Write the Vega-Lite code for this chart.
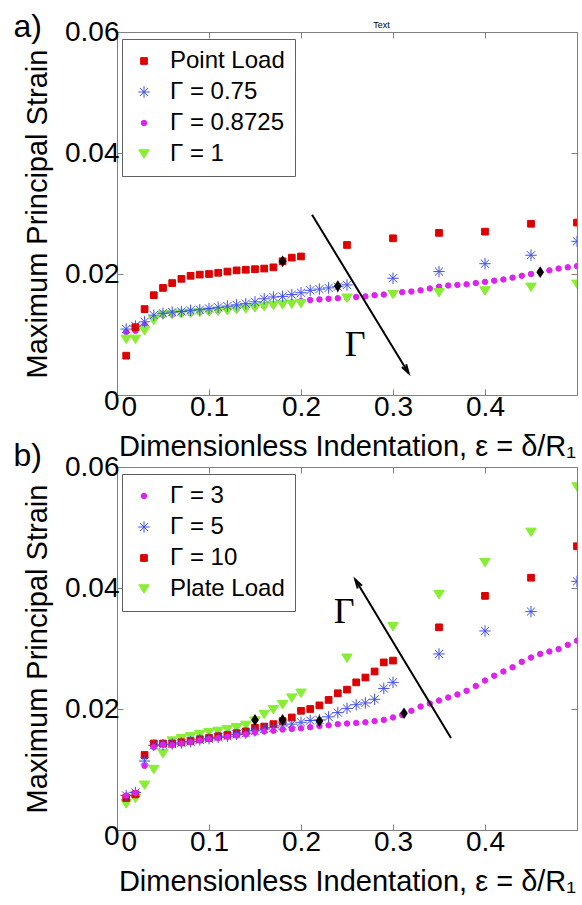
{
  "$schema": "https://vega.github.io/schema/vega-lite/v6.json",
  "padding": {"left": 13, "top": 10, "right": 0, "bottom": 0},
  "background": "white",
  "config": {
    "font": "Liberation Sans",
    "view": {"stroke": "#808080", "strokeWidth": 1},
    "axis": {"domain": false, "grid": false, "tickColor": "#808080", "tickSize": -6, "tickWidth": 1, "labelFontSize": 28, "labelColor": "black", "labelFont": "Liberation Sans", "titleFontSize": 29, "titleFontWeight": "normal", "titleColor": "black", "titleFont": "Liberation Sans", "labelPadding": 4},
    "legend": {"orient": "none", "legendX": 5, "legendY": 7, "strokeColor": "#606060", "fillColor": "white", "padding": 10, "labelFontSize": 24, "labelFont": "Liberation Sans", "labelColor": "black", "rowPadding": 7, "symbolStrokeWidth": 1, "labelOffset": 14, "cornerRadius": 0},
    "title": {"fontSize": 32, "fontWeight": "normal", "anchor": "start", "frame": "bounds", "color": "black", "font": "Liberation Sans"}
  },
  "datasets": {
    "top": [
      {"s":"Γ = 0.8725","x":0.01,"y":0.0104},{"s":"Γ = 0.8725","x":0.02,"y":0.0106},{"s":"Γ = 0.8725","x":0.03,"y":0.0116},{"s":"Γ = 0.8725","x":0.04,"y":0.0127},{"s":"Γ = 0.8725","x":0.05,"y":0.0132},
      {"s":"Γ = 0.8725","x":0.06,"y":0.0133},{"s":"Γ = 0.8725","x":0.07,"y":0.0134},{"s":"Γ = 0.8725","x":0.08,"y":0.0135},{"s":"Γ = 0.8725","x":0.09,"y":0.0137},{"s":"Γ = 0.8725","x":0.10,"y":0.0138},
      {"s":"Γ = 0.8725","x":0.11,"y":0.0139},{"s":"Γ = 0.8725","x":0.12,"y":0.0141},{"s":"Γ = 0.8725","x":0.13,"y":0.0142},{"s":"Γ = 0.8725","x":0.14,"y":0.0144},{"s":"Γ = 0.8725","x":0.15,"y":0.0145},
      {"s":"Γ = 0.8725","x":0.16,"y":0.0147},{"s":"Γ = 0.8725","x":0.17,"y":0.0149},{"s":"Γ = 0.8725","x":0.18,"y":0.0151},{"s":"Γ = 0.8725","x":0.19,"y":0.0153},{"s":"Γ = 0.8725","x":0.20,"y":0.0155},
      {"s":"Γ = 0.8725","x":0.21,"y":0.0157},{"s":"Γ = 0.8725","x":0.22,"y":0.0158},{"s":"Γ = 0.8725","x":0.23,"y":0.0159},{"s":"Γ = 0.8725","x":0.24,"y":0.0160},{"s":"Γ = 0.8725","x":0.25,"y":0.0161},
      {"s":"Γ = 0.8725","x":0.26,"y":0.0162},{"s":"Γ = 0.8725","x":0.27,"y":0.0163},{"s":"Γ = 0.8725","x":0.28,"y":0.0165},{"s":"Γ = 0.8725","x":0.29,"y":0.0166},{"s":"Γ = 0.8725","x":0.30,"y":0.0168},
      {"s":"Γ = 0.8725","x":0.31,"y":0.0170},{"s":"Γ = 0.8725","x":0.32,"y":0.0171},{"s":"Γ = 0.8725","x":0.33,"y":0.0173},{"s":"Γ = 0.8725","x":0.34,"y":0.0176},{"s":"Γ = 0.8725","x":0.35,"y":0.0179},
      {"s":"Γ = 0.8725","x":0.36,"y":0.0181},{"s":"Γ = 0.8725","x":0.37,"y":0.0182},{"s":"Γ = 0.8725","x":0.38,"y":0.0183},{"s":"Γ = 0.8725","x":0.39,"y":0.0185},{"s":"Γ = 0.8725","x":0.40,"y":0.0187},
      {"s":"Γ = 0.8725","x":0.41,"y":0.0189},{"s":"Γ = 0.8725","x":0.42,"y":0.0191},{"s":"Γ = 0.8725","x":0.43,"y":0.0194},{"s":"Γ = 0.8725","x":0.44,"y":0.0197},{"s":"Γ = 0.8725","x":0.45,"y":0.0200},
      {"s":"Γ = 0.8725","x":0.46,"y":0.0203},{"s":"Γ = 0.8725","x":0.47,"y":0.0206},{"s":"Γ = 0.8725","x":0.48,"y":0.0209},{"s":"Γ = 0.8725","x":0.49,"y":0.0211},{"s":"Γ = 0.8725","x":0.50,"y":0.0213},
      {"s":"Γ = 1","x":0.01,"y":0.0092},{"s":"Γ = 1","x":0.02,"y":0.0092},{"s":"Γ = 1","x":0.03,"y":0.0106},{"s":"Γ = 1","x":0.04,"y":0.0123},{"s":"Γ = 1","x":0.05,"y":0.0132},
      {"s":"Γ = 1","x":0.06,"y":0.0133},{"s":"Γ = 1","x":0.07,"y":0.0134},{"s":"Γ = 1","x":0.08,"y":0.0135},{"s":"Γ = 1","x":0.09,"y":0.0136},{"s":"Γ = 1","x":0.10,"y":0.0137},
      {"s":"Γ = 1","x":0.11,"y":0.0138},{"s":"Γ = 1","x":0.12,"y":0.0139},{"s":"Γ = 1","x":0.13,"y":0.0141},{"s":"Γ = 1","x":0.14,"y":0.0142},{"s":"Γ = 1","x":0.15,"y":0.0144},
      {"s":"Γ = 1","x":0.16,"y":0.0146},{"s":"Γ = 1","x":0.17,"y":0.0148},{"s":"Γ = 1","x":0.18,"y":0.0149},{"s":"Γ = 1","x":0.19,"y":0.0150},{"s":"Γ = 1","x":0.20,"y":0.0151},
      {"s":"Γ = 1","x":0.25,"y":0.0160},{"s":"Γ = 1","x":0.30,"y":0.0166},{"s":"Γ = 1","x":0.35,"y":0.0169},{"s":"Γ = 1","x":0.40,"y":0.0172},{"s":"Γ = 1","x":0.45,"y":0.0178},{"s":"Γ = 1","x":0.50,"y":0.0183},
      {"s":"Γ = 0.75","x":0.01,"y":0.0109},{"s":"Γ = 0.75","x":0.02,"y":0.0114},{"s":"Γ = 0.75","x":0.03,"y":0.0121},{"s":"Γ = 0.75","x":0.04,"y":0.0132},{"s":"Γ = 0.75","x":0.05,"y":0.0135},
      {"s":"Γ = 0.75","x":0.06,"y":0.0137},{"s":"Γ = 0.75","x":0.07,"y":0.0138},{"s":"Γ = 0.75","x":0.08,"y":0.0140},{"s":"Γ = 0.75","x":0.09,"y":0.0141},{"s":"Γ = 0.75","x":0.10,"y":0.0143},
      {"s":"Γ = 0.75","x":0.11,"y":0.0145},{"s":"Γ = 0.75","x":0.12,"y":0.0147},{"s":"Γ = 0.75","x":0.13,"y":0.0149},{"s":"Γ = 0.75","x":0.14,"y":0.0151},{"s":"Γ = 0.75","x":0.15,"y":0.0154},
      {"s":"Γ = 0.75","x":0.16,"y":0.0159},{"s":"Γ = 0.75","x":0.17,"y":0.0162},{"s":"Γ = 0.75","x":0.18,"y":0.0163},{"s":"Γ = 0.75","x":0.19,"y":0.0166},{"s":"Γ = 0.75","x":0.20,"y":0.0169},
      {"s":"Γ = 0.75","x":0.21,"y":0.0173},{"s":"Γ = 0.75","x":0.22,"y":0.0175},{"s":"Γ = 0.75","x":0.23,"y":0.0177},{"s":"Γ = 0.75","x":0.24,"y":0.0179},{"s":"Γ = 0.75","x":0.25,"y":0.0182},
      {"s":"Γ = 0.75","x":0.30,"y":0.0193},{"s":"Γ = 0.75","x":0.35,"y":0.0204},{"s":"Γ = 0.75","x":0.40,"y":0.0217},{"s":"Γ = 0.75","x":0.45,"y":0.0231},{"s":"Γ = 0.75","x":0.50,"y":0.0254},
      {"s":"Point Load","x":0.01,"y":0.0065},{"s":"Point Load","x":0.02,"y":0.0112},{"s":"Point Load","x":0.03,"y":0.0142},{"s":"Point Load","x":0.04,"y":0.0165},{"s":"Point Load","x":0.05,"y":0.0177},
      {"s":"Point Load","x":0.06,"y":0.0185},{"s":"Point Load","x":0.07,"y":0.0192},{"s":"Point Load","x":0.08,"y":0.0197},{"s":"Point Load","x":0.09,"y":0.0199},{"s":"Point Load","x":0.10,"y":0.0200},
      {"s":"Point Load","x":0.11,"y":0.0202},{"s":"Point Load","x":0.12,"y":0.0204},{"s":"Point Load","x":0.13,"y":0.0206},{"s":"Point Load","x":0.14,"y":0.0207},{"s":"Point Load","x":0.15,"y":0.0208},
      {"s":"Point Load","x":0.16,"y":0.0209},{"s":"Point Load","x":0.17,"y":0.0211},{"s":"Point Load","x":0.18,"y":0.0221},{"s":"Point Load","x":0.19,"y":0.0227},{"s":"Point Load","x":0.20,"y":0.0229},
      {"s":"Point Load","x":0.25,"y":0.0248},{"s":"Point Load","x":0.30,"y":0.0259},{"s":"Point Load","x":0.35,"y":0.0268},{"s":"Point Load","x":0.40,"y":0.0270},{"s":"Point Load","x":0.45,"y":0.0283},{"s":"Point Load","x":0.50,"y":0.0285}
    ],
    "bottom": [
      {"s":"Plate Load","x":0.01,"y":0.0043},{"s":"Plate Load","x":0.02,"y":0.0052},{"s":"Plate Load","x":0.03,"y":0.0074},{"s":"Plate Load","x":0.04,"y":0.0100},{"s":"Plate Load","x":0.05,"y":0.0126},
      {"s":"Plate Load","x":0.06,"y":0.0147},{"s":"Plate Load","x":0.07,"y":0.0151},{"s":"Plate Load","x":0.08,"y":0.0154},{"s":"Plate Load","x":0.09,"y":0.0158},{"s":"Plate Load","x":0.10,"y":0.0161},
      {"s":"Plate Load","x":0.11,"y":0.0163},{"s":"Plate Load","x":0.12,"y":0.0166},{"s":"Plate Load","x":0.13,"y":0.0169},{"s":"Plate Load","x":0.14,"y":0.0173},{"s":"Plate Load","x":0.15,"y":0.0180},
      {"s":"Plate Load","x":0.16,"y":0.0191},{"s":"Plate Load","x":0.17,"y":0.0199},{"s":"Plate Load","x":0.18,"y":0.0207},{"s":"Plate Load","x":0.19,"y":0.0218},{"s":"Plate Load","x":0.20,"y":0.0226},
      {"s":"Plate Load","x":0.25,"y":0.0284},{"s":"Plate Load","x":0.30,"y":0.0336},{"s":"Plate Load","x":0.35,"y":0.0389},{"s":"Plate Load","x":0.40,"y":0.0442},{"s":"Plate Load","x":0.45,"y":0.0492},{"s":"Plate Load","x":0.50,"y":0.0567},
      {"s":"Γ = 10","x":0.01,"y":0.0053},{"s":"Γ = 10","x":0.02,"y":0.0059},{"s":"Γ = 10","x":0.03,"y":0.0124},{"s":"Γ = 10","x":0.04,"y":0.0143},{"s":"Γ = 10","x":0.05,"y":0.0143},
      {"s":"Γ = 10","x":0.06,"y":0.0143},{"s":"Γ = 10","x":0.07,"y":0.0145},{"s":"Γ = 10","x":0.08,"y":0.0147},{"s":"Γ = 10","x":0.09,"y":0.0150},{"s":"Γ = 10","x":0.10,"y":0.0152},
      {"s":"Γ = 10","x":0.11,"y":0.0155},{"s":"Γ = 10","x":0.12,"y":0.0157},{"s":"Γ = 10","x":0.13,"y":0.0160},{"s":"Γ = 10","x":0.14,"y":0.0163},{"s":"Γ = 10","x":0.15,"y":0.0169},
      {"s":"Γ = 10","x":0.16,"y":0.0171},{"s":"Γ = 10","x":0.17,"y":0.0175},{"s":"Γ = 10","x":0.18,"y":0.0180},{"s":"Γ = 10","x":0.19,"y":0.0186},{"s":"Γ = 10","x":0.20,"y":0.0197},
      {"s":"Γ = 10","x":0.21,"y":0.0200},{"s":"Γ = 10","x":0.22,"y":0.0206},{"s":"Γ = 10","x":0.23,"y":0.0215},{"s":"Γ = 10","x":0.24,"y":0.0226},{"s":"Γ = 10","x":0.25,"y":0.0232},
      {"s":"Γ = 10","x":0.26,"y":0.0244},{"s":"Γ = 10","x":0.27,"y":0.0252},{"s":"Γ = 10","x":0.28,"y":0.0262},{"s":"Γ = 10","x":0.29,"y":0.0277},{"s":"Γ = 10","x":0.30,"y":0.0280},
      {"s":"Γ = 10","x":0.35,"y":0.0335},{"s":"Γ = 10","x":0.40,"y":0.0387},{"s":"Γ = 10","x":0.45,"y":0.0417},{"s":"Γ = 10","x":0.50,"y":0.0469},
      {"s":"Γ = 5","x":0.01,"y":0.0057},{"s":"Γ = 5","x":0.02,"y":0.0062},{"s":"Γ = 5","x":0.03,"y":0.0114},{"s":"Γ = 5","x":0.04,"y":0.0140},{"s":"Γ = 5","x":0.05,"y":0.0141},
      {"s":"Γ = 5","x":0.06,"y":0.0142},{"s":"Γ = 5","x":0.07,"y":0.0144},{"s":"Γ = 5","x":0.08,"y":0.0146},{"s":"Γ = 5","x":0.09,"y":0.0149},{"s":"Γ = 5","x":0.10,"y":0.0151},
      {"s":"Γ = 5","x":0.11,"y":0.0153},{"s":"Γ = 5","x":0.12,"y":0.0155},{"s":"Γ = 5","x":0.13,"y":0.0158},{"s":"Γ = 5","x":0.14,"y":0.0160},{"s":"Γ = 5","x":0.15,"y":0.0164},
      {"s":"Γ = 5","x":0.16,"y":0.0167},{"s":"Γ = 5","x":0.17,"y":0.0169},{"s":"Γ = 5","x":0.18,"y":0.0172},{"s":"Γ = 5","x":0.19,"y":0.0175},{"s":"Γ = 5","x":0.20,"y":0.0178},
      {"s":"Γ = 5","x":0.21,"y":0.0181},{"s":"Γ = 5","x":0.22,"y":0.0182},{"s":"Γ = 5","x":0.23,"y":0.0187},{"s":"Γ = 5","x":0.24,"y":0.0194},{"s":"Γ = 5","x":0.25,"y":0.0201},
      {"s":"Γ = 5","x":0.26,"y":0.0207},{"s":"Γ = 5","x":0.27,"y":0.0210},{"s":"Γ = 5","x":0.28,"y":0.0216},{"s":"Γ = 5","x":0.29,"y":0.0234},{"s":"Γ = 5","x":0.30,"y":0.0244},
      {"s":"Γ = 5","x":0.35,"y":0.0291},{"s":"Γ = 5","x":0.40,"y":0.0329},{"s":"Γ = 5","x":0.45,"y":0.0361},{"s":"Γ = 5","x":0.50,"y":0.0411},
      {"s":"Γ = 3","x":0.01,"y":0.0057},{"s":"Γ = 3","x":0.02,"y":0.0061},{"s":"Γ = 3","x":0.03,"y":0.0106},{"s":"Γ = 3","x":0.04,"y":0.0137},{"s":"Γ = 3","x":0.05,"y":0.0141},
      {"s":"Γ = 3","x":0.06,"y":0.0140},{"s":"Γ = 3","x":0.07,"y":0.0143},{"s":"Γ = 3","x":0.08,"y":0.0145},{"s":"Γ = 3","x":0.09,"y":0.0148},{"s":"Γ = 3","x":0.10,"y":0.0150},
      {"s":"Γ = 3","x":0.11,"y":0.0152},{"s":"Γ = 3","x":0.12,"y":0.0154},{"s":"Γ = 3","x":0.13,"y":0.0156},{"s":"Γ = 3","x":0.14,"y":0.0158},{"s":"Γ = 3","x":0.15,"y":0.0161},
      {"s":"Γ = 3","x":0.16,"y":0.0163},{"s":"Γ = 3","x":0.17,"y":0.0164},{"s":"Γ = 3","x":0.18,"y":0.0166},{"s":"Γ = 3","x":0.19,"y":0.0167},{"s":"Γ = 3","x":0.20,"y":0.0168},
      {"s":"Γ = 3","x":0.21,"y":0.0170},{"s":"Γ = 3","x":0.22,"y":0.0172},{"s":"Γ = 3","x":0.23,"y":0.0173},{"s":"Γ = 3","x":0.24,"y":0.0175},{"s":"Γ = 3","x":0.25,"y":0.0176},
      {"s":"Γ = 3","x":0.26,"y":0.0177},{"s":"Γ = 3","x":0.27,"y":0.0178},{"s":"Γ = 3","x":0.28,"y":0.0180},{"s":"Γ = 3","x":0.29,"y":0.0182},{"s":"Γ = 3","x":0.30,"y":0.0186},
      {"s":"Γ = 3","x":0.31,"y":0.0190},{"s":"Γ = 3","x":0.32,"y":0.0197},{"s":"Γ = 3","x":0.33,"y":0.0204},{"s":"Γ = 3","x":0.34,"y":0.0209},{"s":"Γ = 3","x":0.35,"y":0.0214},
      {"s":"Γ = 3","x":0.36,"y":0.0219},{"s":"Γ = 3","x":0.37,"y":0.0224},{"s":"Γ = 3","x":0.38,"y":0.0230},{"s":"Γ = 3","x":0.39,"y":0.0238},{"s":"Γ = 3","x":0.40,"y":0.0247},
      {"s":"Γ = 3","x":0.41,"y":0.0255},{"s":"Γ = 3","x":0.42,"y":0.0262},{"s":"Γ = 3","x":0.43,"y":0.0269},{"s":"Γ = 3","x":0.44,"y":0.0278},{"s":"Γ = 3","x":0.45,"y":0.0285},
      {"s":"Γ = 3","x":0.46,"y":0.0291},{"s":"Γ = 3","x":0.47,"y":0.0295},{"s":"Γ = 3","x":0.48,"y":0.0299},{"s":"Γ = 3","x":0.49,"y":0.0306},{"s":"Γ = 3","x":0.50,"y":0.0313}
    ],
    "topMarks": [{"x":0.18,"y":0.0221},{"x":0.24,"y":0.0180},{"x":0.46,"y":0.0203}],
    "bottomMarks": [{"x":0.15,"y":0.0182},{"x":0.18,"y":0.0182},{"x":0.22,"y":0.0180},{"x":0.312,"y":0.0193}],
    "topArrow": [{"x":0.212,"y":0.0298,"x2":0.317,"y2":0.0036}],
    "bottomArrow": [{"x":0.363,"y":0.0152,"x2":0.259,"y2":0.0414}],
    "topLabel": [{"x":0.259,"y":0.0083,"t":"Γ"}],
    "bottomLabel": [{"x":0.247,"y":0.0361,"t":"Γ"}]
  },
  "bounds": "flush",
  "spacing": 72,
  "resolve": {"scale": {"shape": "independent", "fill": "independent", "stroke": "independent", "size": "independent"}},
  "vconcat": [
    {
      "width": 460, "height": 363,
      "title": {"text": "a)", "offset": -26, "dx": -10},
      "resolve": {"axis": {"x": "independent", "y": "independent"}},
      "layer": [
        {
          "data": {"name": "top"},
          "mark": {"type": "point", "clip": true, "strokeWidth": 1, "opacity": 1},
          "encoding": {
            "x": {"field": "x", "type": "quantitative", "scale": {"domain": [0, 0.5], "nice": false, "zero": false},
                  "axis": {"orient": "bottom", "values": [0, 0.1, 0.2, 0.3, 0.4], "format": "~g", "title": "Dimensionless Indentation, ε = δ/R₁", "titlePadding": 11,
                           "labelOffset": {"condition": {"test": "datum.value === 0", "value": 4}, "value": 0}}},
            "y": {"field": "y", "type": "quantitative", "scale": {"domain": [0, 0.06], "nice": false},
                  "axis": {"orient": "left", "values": [0, 0.02, 0.04, 0.06], "format": "~g", "title": "Maximum Principal Strain", "titlePadding": 12,
                           "labelOffset": {"condition": {"test": "datum.value === 0", "value": 6}, "value": 0}}},
            "shape": {"field": "s", "type": "nominal", "scale": {"domain": ["Point Load", "Γ = 0.75", "Γ = 0.8725", "Γ = 1"], "range": ["square", "M-1,0L1,0M0,-1L0,1M-0.71,-0.71L0.71,0.71M-0.71,0.71L0.71,-0.71", "circle", "M-1,-0.8L1,-0.8L0,0.8Z"]}, "legend": {"title": null}},
            "fill": {"field": "s", "type": "nominal", "scale": {"domain": ["Point Load", "Γ = 0.75", "Γ = 0.8725", "Γ = 1"], "range": ["#dd0000", "transparent", "#dd22ee", "#88ee33"]}, "legend": {"title": null}},
            "stroke": {"field": "s", "type": "nominal", "scale": {"domain": ["Point Load", "Γ = 0.75", "Γ = 0.8725", "Γ = 1"], "range": ["#dd0000", "#3f4fee", "#dd22ee", "#88ee33"]}, "legend": {"title": null}},
            "size": {"field": "s", "type": "nominal", "scale": {"type": "ordinal", "domain": ["Point Load", "Γ = 0.75", "Γ = 0.8725", "Γ = 1"], "range": [45, 130, 30, 110]}, "legend": {"title": null}}
          }
        },
        {
          "data": {"name": "topMarks"},
          "mark": {"type": "point", "filled": true, "color": "black", "opacity": 1, "shape": "M0,-1.3L0.85,0L0,1.3L-0.85,0Z", "size": 80},
          "encoding": {
            "x": {"field": "x", "type": "quantitative", "scale": {"domain": [0, 0.5], "nice": false, "zero": false},
                  "axis": {"orient": "top", "values": [0, 0.1, 0.2, 0.3, 0.4, 0.5], "labels": false, "title": "Text", "titleFontSize": 9, "titlePadding": 2, "titleX": 264}},
            "y": {"field": "y", "type": "quantitative", "scale": {"domain": [0, 0.06], "nice": false},
                  "axis": {"orient": "right", "values": [0, 0.02, 0.04, 0.06], "labels": false, "title": null}}
          }
        },
        {
          "data": {"name": "topArrow"},
          "mark": {"type": "rule", "color": "black", "strokeWidth": 2},
          "encoding": {
            "x": {"field": "x", "type": "quantitative", "axis": null}, "y": {"field": "y", "type": "quantitative", "axis": null},
            "x2": {"field": "x2"}, "y2": {"field": "y2"}
          }
        },
        {
          "data": {"name": "topArrow"},
          "mark": {"type": "point", "filled": false, "stroke": "black", "strokeWidth": 2, "opacity": 1, "shape": "M-0.4,1.4L0,0L0.4,1.4", "size": 160, "angle": 148.6},
          "encoding": {
            "x": {"field": "x2", "type": "quantitative", "axis": null}, "y": {"field": "y2", "type": "quantitative", "axis": null}
          }
        },
        {
          "data": {"name": "topLabel"},
          "mark": {"type": "text", "font": "Liberation Serif", "fontSize": 36, "color": "black", "align": "center", "baseline": "middle"},
          "encoding": {
            "x": {"field": "x", "type": "quantitative", "axis": null}, "y": {"field": "y", "type": "quantitative", "axis": null},
            "text": {"field": "t"}
          }
        }
      ]
    },
    {
      "width": 460, "height": 363,
      "title": {"text": "b)", "offset": -20, "dx": -10},
      "resolve": {"axis": {"x": "independent", "y": "independent"}},
      "layer": [
        {
          "data": {"name": "bottom"},
          "mark": {"type": "point", "clip": true, "strokeWidth": 1, "opacity": 1},
          "encoding": {
            "x": {"field": "x", "type": "quantitative", "scale": {"domain": [0, 0.5], "nice": false, "zero": false},
                  "axis": {"orient": "bottom", "values": [0, 0.1, 0.2, 0.3, 0.4], "format": "~g", "title": "Dimensionless Indentation, ε = δ/R₁", "titlePadding": 11,
                           "labelOffset": {"condition": {"test": "datum.value === 0", "value": 4}, "value": 0}}},
            "y": {"field": "y", "type": "quantitative", "scale": {"domain": [0, 0.06], "nice": false},
                  "axis": {"orient": "left", "values": [0, 0.02, 0.04, 0.06], "format": "~g", "title": "Maximum Principal Strain", "titlePadding": 12,
                           "labelOffset": {"condition": {"test": "datum.value === 0", "value": 6}, "value": 0}}},
            "shape": {"field": "s", "type": "nominal", "scale": {"domain": ["Γ = 3", "Γ = 5", "Γ = 10", "Plate Load"], "range": ["circle", "M-1,0L1,0M0,-1L0,1M-0.71,-0.71L0.71,0.71M-0.71,0.71L0.71,-0.71", "square", "M-1,-0.8L1,-0.8L0,0.8Z"]}, "legend": {"title": null}},
            "fill": {"field": "s", "type": "nominal", "scale": {"domain": ["Γ = 3", "Γ = 5", "Γ = 10", "Plate Load"], "range": ["#dd22ee", "transparent", "#dd0000", "#88ee33"]}, "legend": {"title": null}},
            "stroke": {"field": "s", "type": "nominal", "scale": {"domain": ["Γ = 3", "Γ = 5", "Γ = 10", "Plate Load"], "range": ["#dd22ee", "#3f4fee", "#dd0000", "#88ee33"]}, "legend": {"title": null}},
            "size": {"field": "s", "type": "nominal", "scale": {"type": "ordinal", "domain": ["Γ = 3", "Γ = 5", "Γ = 10", "Plate Load"], "range": [30, 130, 45, 110]}, "legend": {"title": null}}
          }
        },
        {
          "data": {"name": "bottomMarks"},
          "mark": {"type": "point", "filled": true, "color": "black", "opacity": 1, "shape": "M0,-1.3L0.85,0L0,1.3L-0.85,0Z", "size": 80},
          "encoding": {
            "x": {"field": "x", "type": "quantitative", "scale": {"domain": [0, 0.5], "nice": false, "zero": false},
                  "axis": {"orient": "top", "values": [0, 0.1, 0.2, 0.3, 0.4, 0.5], "labels": false, "title": null}},
            "y": {"field": "y", "type": "quantitative", "scale": {"domain": [0, 0.06], "nice": false},
                  "axis": {"orient": "right", "values": [0, 0.02, 0.04, 0.06], "labels": false, "title": null}}
          }
        },
        {
          "data": {"name": "bottomArrow"},
          "mark": {"type": "rule", "color": "black", "strokeWidth": 2},
          "encoding": {
            "x": {"field": "x", "type": "quantitative", "axis": null}, "y": {"field": "y", "type": "quantitative", "axis": null},
            "x2": {"field": "x2"}, "y2": {"field": "y2"}
          }
        },
        {
          "data": {"name": "bottomArrow"},
          "mark": {"type": "point", "filled": false, "stroke": "black", "strokeWidth": 2, "opacity": 1, "shape": "M-0.4,1.4L0,0L0.4,1.4", "size": 160, "angle": 328.9},
          "encoding": {
            "x": {"field": "x2", "type": "quantitative", "axis": null}, "y": {"field": "y2", "type": "quantitative", "axis": null}
          }
        },
        {
          "data": {"name": "bottomLabel"},
          "mark": {"type": "text", "font": "Liberation Serif", "fontSize": 36, "color": "black", "align": "center", "baseline": "middle"},
          "encoding": {
            "x": {"field": "x", "type": "quantitative", "axis": null}, "y": {"field": "y", "type": "quantitative", "axis": null},
            "text": {"field": "t"}
          }
        }
      ]
    }
  ]
}
